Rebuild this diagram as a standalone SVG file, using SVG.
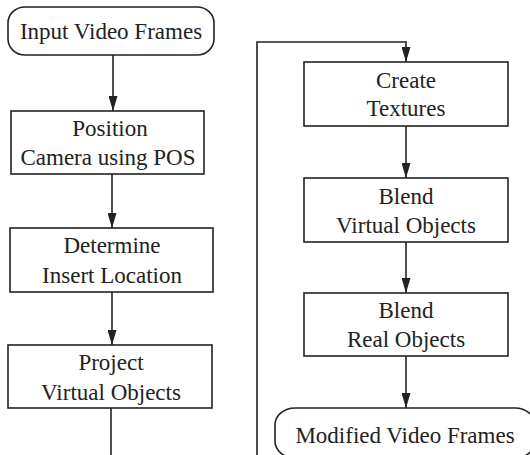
<svg xmlns="http://www.w3.org/2000/svg" width="530" height="455" viewBox="0 0 530 455">
<style>
.box{fill:#fff;stroke:#222;stroke-width:1.6}
.t{font-family:'Liberation Serif','DejaVu Serif',serif;font-size:23px;fill:#222;text-anchor:middle}
.c{fill:none;stroke:#222;stroke-width:1.6}
</style>
<defs>
<marker id="ah" markerUnits="userSpaceOnUse" markerWidth="9" markerHeight="15" viewBox="0 0 9 15" refX="4.5" refY="15" orient="0">
<path d="M0,0 L9,0 L4.5,15 Z" fill="#222"/>
</marker>
</defs>
<rect width="530" height="455" fill="#fff"/>
<g id="connectors">
<line class="c" x1="113" y1="55" x2="113" y2="111" marker-end="url(#ah)"/>
<line class="c" x1="112" y1="174" x2="112" y2="228" marker-end="url(#ah)"/>
<line class="c" x1="112" y1="292" x2="112" y2="345" marker-end="url(#ah)"/>
<line class="c" x1="111" y1="408" x2="111" y2="456"/>
<polyline class="c" points="257,456 257,42 406,42 406,62" marker-end="url(#ah)"/>
<line class="c" x1="406" y1="126" x2="406" y2="178" marker-end="url(#ah)"/>
<line class="c" x1="406" y1="242" x2="406" y2="293" marker-end="url(#ah)"/>
<line class="c" x1="406" y1="356" x2="406" y2="408" marker-end="url(#ah)"/>
</g>
<g id="input">
<rect class="box" x="8" y="7" width="206" height="48" rx="17" ry="16"/>
<text class="t" font-family="Liberation Serif, serif" x="111" y="39">Input Video Frames</text>
</g>
<g id="position">
<rect class="box" x="11" y="111" width="193" height="63"/>
<text class="t" x="110" y="136">Position</text>
<text class="t" x="108" y="165">Camera using POS</text>
</g>
<g id="determine">
<rect class="box" x="10" y="228" width="203" height="64"/>
<text class="t" x="112" y="253">Determine</text>
<text class="t" x="112" y="283">Insert Location</text>
</g>
<g id="project">
<rect class="box" x="8" y="345" width="204" height="63"/>
<text class="t" x="111" y="370">Project</text>
<text class="t" x="111" y="400">Virtual Objects</text>
</g>
<g id="create">
<rect class="box" x="304" y="62" width="204" height="64"/>
<text class="t" x="406" y="88">Create</text>
<text class="t" x="406" y="116">Textures</text>
</g>
<g id="blendvirtual">
<rect class="box" x="304" y="178" width="204" height="64"/>
<text class="t" x="406" y="204">Blend</text>
<text class="t" x="406" y="233">Virtual Objects</text>
</g>
<g id="blendreal">
<rect class="box" x="304" y="293" width="204" height="63"/>
<text class="t" x="406" y="318">Blend</text>
<text class="t" x="406" y="347">Real Objects</text>
</g>
<g id="modified">
<rect class="box" x="275" y="408" width="260" height="50" rx="20" ry="17"/>
<text class="t" x="405" y="443">Modified Video Frames</text>
</g>
</svg>
